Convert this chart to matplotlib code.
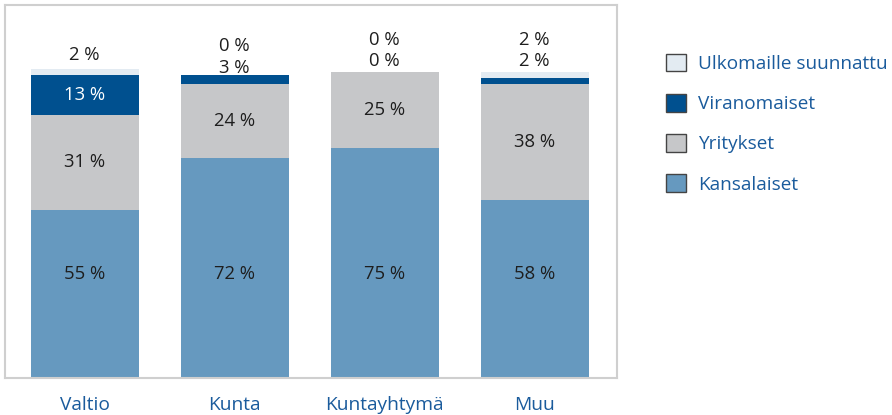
import matplotlib
matplotlib.use("Agg")
import matplotlib.pyplot as plt
from matplotlib.patches import Patch
import numpy as np

plt.rcParams['font.family'] = ['Open Sans', 'DejaVu Sans']

categories = ["Valtio", "Kunta", "Kuntayhtymä", "Muu"]
series_names = ["Kansalaiset", "Yritykset", "Viranomaiset", "Ulkomaille suunnattu"]
kansalaiset = [55, 72, 75, 58]
yritykset = [31, 24, 25, 38]
viranomaiset = [13, 3, 0, 2]
ulkomaille = [2, 0, 0, 2]

colors = ["#6699bf", "#c6c7c9", "#00508f", "#e3ebf2"]
series = [kansalaiset, yritykset, viranomaiset, ulkomaille]

W, H = 892, 415
fig = plt.figure(figsize=(W / 100, H / 100), dpi=100)
ax = fig.add_axes([5 / W, 1 - 378 / H, 612 / W, 373 / H])

x = np.arange(len(categories))
bottom = np.zeros(len(categories))
for vals, col, name in zip(series, colors, series_names):
    ax.bar(x, vals, bottom=bottom, width=0.72, color=col, label=name, linewidth=0)
    bottom += np.array(vals)

FS = 13.3
text_col = "#1e1e1e"
for i in range(len(categories)):
    b = 0
    top = sum(s[i] for s in series)
    above = []
    for k, vals in enumerate(series):
        v = vals[i]
        if v >= 10:
            c = "white" if k == 2 else text_col
            ypos = 33.8 if k == 0 else b + v / 2
            ax.text(x[i], ypos, f"{v} %", ha="center", va="center",
                    fontsize=FS, color=c)
        else:
            above.append(v)
        b += v
    offs = [3.6, 10.4] if len(above) == 2 else [4.6]
    if i == 1:
        offs = [2.2, 9.3]
    for v, o in zip(above, offs):
        ax.text(x[i], top + o, f"{v} %", ha="center", va="center",
                fontsize=FS, color=text_col)

ax.set_xlim(-0.53, 3.55)
ax.set_ylim(0, 121.8)
ax.set_yticks([])
ax.set_xticks(x)
ax.set_xticklabels(categories, fontsize=13.8, color="#1a5b9c")
ax.tick_params(axis="x", length=0, pad=13)
for s in ax.spines.values():
    s.set_color("#cfcfcf")
    s.set_linewidth(1.5)

handles = [Patch(facecolor=c, edgecolor="#444444", linewidth=1.0) for c in colors][::-1]
labels = series_names[::-1]
leg = fig.legend(handles, labels, loc="upper left",
                 bbox_to_anchor=(658 / W, 1 - 46 / H),
                 frameon=False, fontsize=13.7, handlelength=1.05, handleheight=1.05,
                 labelspacing=1.1, handletextpad=0.65, borderaxespad=0)
for t in leg.get_texts():
    t.set_color("#1a5b9c")

fig.savefig("out.png", dpi=100)
